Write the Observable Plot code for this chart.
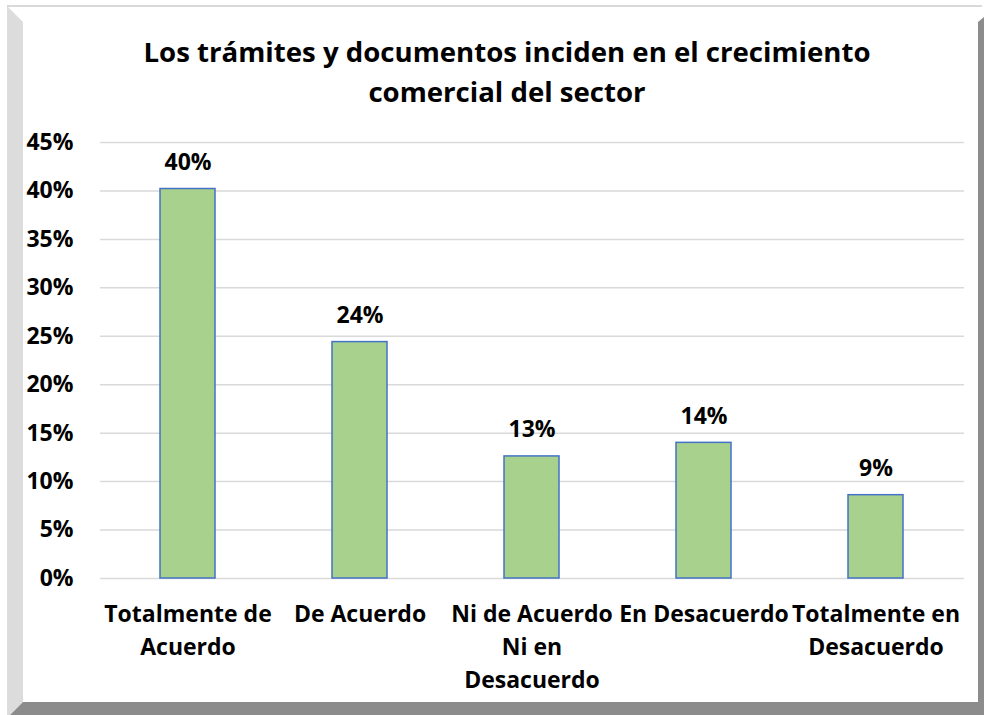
<!DOCTYPE html>
<html><head><meta charset="utf-8">
<script src="https://cdn.jsdelivr.net/npm/d3@7"></script>
<script src="https://cdn.jsdelivr.net/npm/@observablehq/plot@0.6"></script>
<style>
body{margin:0;background:#fff;}
#wrap{position:relative;width:984px;height:715px;overflow:hidden;font-family:"Open Sans",sans-serif;}
.sh{position:absolute;left:0;top:0;width:984px;height:715px;}
#title{position:absolute;top:31px;left:22px;width:970px;text-align:center;font-weight:700;font-size:27.6px;line-height:40px;color:#000;}
#chart{position:absolute;left:0;top:120px;}
</style></head><body>
<div id="wrap">
<div class="sh" style="background:#dcdcdc;clip-path:polygon(7px 6px,23px 22px,23px 702px,10px 715px,7px 715px)"></div>
<div class="sh" style="background:#8c8c8c;clip-path:polygon(10px 715px,23px 702px,978px 702px,978px 22px,984px 17px,984px 715px)"></div>
<div style="position:absolute;left:7px;top:5px;width:975px;height:2px;background:#d9d9d9"></div>
<div id="title">Los trámites y documentos inciden en el crecimiento<br>comercial del sector</div>
<div id="chart"></div>
</div>
<script>
const categories = ["Totalmente de Acuerdo", "De Acuerdo", "Ni de Acuerdo Ni en Desacuerdo", "En Desacuerdo", "Totalmente en Desacuerdo"];
const tickLabels = ["Totalmente de\nAcuerdo", "De Acuerdo", "Ni de Acuerdo\nNi en\nDesacuerdo", "En Desacuerdo", "Totalmente en\nDesacuerdo"];
const values = [0.402, 0.244, 0.126, 0.140, 0.086];
const valueLabels = ["40%", "24%", "13%", "14%", "9%"];
const yTicks = [0, 0.05, 0.10, 0.15, 0.20, 0.25, 0.30, 0.35, 0.40, 0.45];

const rows = categories.map((c, i) => ({cat: c, value: values[i], label: valueLabels[i]}));
const pct = d3.format(".0%");

const chart = Plot.plot({
  width: 984,
  height: 595,
  marginLeft: 100,
  marginRight: 20,
  marginTop: 22,
  marginBottom: 137,
  style: {fontFamily: "'Open Sans', sans-serif", fontWeight: 700, fontSize: "23px", color: "#000", background: "transparent", overflow: "visible"},
  x: {domain: categories, paddingInner: 0.68, paddingOuter: 0.34, label: null},
  y: {domain: [0, 0.45], label: null},
  marks: [
    Plot.gridY(yTicks, {stroke: "#d9d9d9", strokeOpacity: 1, strokeWidth: 1.5}),
    Plot.barY(rows, {x: "cat", y: "value", fill: "#a9d18e", stroke: "#4472c4", strokeWidth: 1.5}),
    Plot.text(rows, {x: "cat", y: "value", text: "label", dy: -19, lineAnchor: "bottom", fontSize: 23, fontWeight: 700, fill: "#000"}),
    Plot.axisY({ticks: yTicks, tickFormat: pct, tickSize: 0, tickPadding: 27, fontSize: 23, fontWeight: 700, label: null}),
    Plot.axisX({tickFormat: d => tickLabels[categories.indexOf(d)], tickSize: 0, tickPadding: 20, lineHeight: 1.43, fontSize: 23, fontWeight: 700, label: null})
  ]
});
document.getElementById("chart").appendChild(chart);
</script>
</body></html>
